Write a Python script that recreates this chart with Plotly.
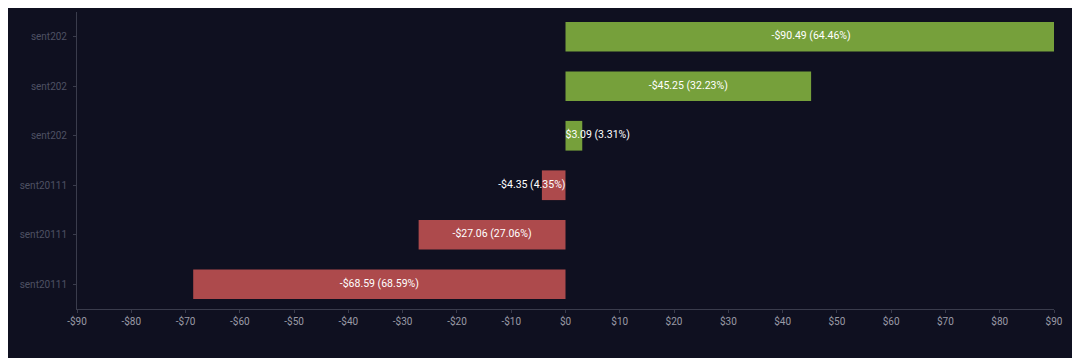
import plotly.graph_objects as go

categories = ["sent20111", "sent20111", "sent20111", "sent202", "sent202", "sent202"]
values = [-68.59, -27.06, -4.35, 3.09, 45.25, 90.49]
labels = ["-$68.59 (68.59%)", "-$27.06 (27.06%)", "-$4.35 (4.35%)",
          "$3.09 (3.31%)", "-$45.25 (32.23%)", "-$90.49 (64.46%)"]
tick_values = [-90, -80, -70, -60, -50, -40, -30, -20, -10, 0, 10, 20, 30, 40, 50, 60, 70, 80, 90]
tick_labels = ["-$90", "-$80", "-$70", "-$60", "-$50", "-$40", "-$30", "-$20", "-$10", "$0",
               "$10", "$20", "$30", "$40", "$50", "$60", "$70", "$80", "$90"]

positions = list(range(len(categories)))
colors = ["#ad4a4c" if v < 0 else "#76a03b" for v in values]

# label placement: centred on large bars, anchored at the base for small ones
text_x, text_pos = [], []
for v in values:
    if abs(v) >= 15:
        text_x.append(v / 2)
        text_pos.append("middle center")
    else:
        text_x.append(0)
        text_pos.append("middle right" if v > 0 else "middle left")

fig = go.Figure()
fig.add_trace(go.Bar(
    x=values, y=positions, orientation="h",
    marker=dict(color=colors, line=dict(width=0)),
    width=0.6, hoverinfo="skip",
))
fig.add_trace(go.Scatter(
    x=text_x, y=positions, mode="text", text=labels, textposition=text_pos,
    textfont=dict(color="#ffffff", size=10.5, family="Roboto"),
    cliponaxis=False, hoverinfo="skip",
))

fig.update_layout(
    width=1080, height=358,
    paper_bgcolor="#0f1020", plot_bgcolor="#0f1020",
    margin=dict(l=69, r=34, t=4, b=57),
    showlegend=False,
    font=dict(family="Roboto", color="#9a9aa6", size=10),
)
fig.update_xaxes(
    range=[-90, 90], tickvals=tick_values, ticktext=tick_labels,
    showgrid=False, zeroline=False, showline=True, linecolor="#3a3c4c", linewidth=1,
    ticks="outside", ticklen=3, tickcolor="#3a3c4c",
    tickfont=dict(color="#9a9aa6", size=10),
)
fig.update_yaxes(
    range=[-0.5, 5.5], tickvals=positions, ticktext=categories,
    showgrid=False, zeroline=False, showline=True, linecolor="#3a3c4c", linewidth=1,
    ticks="outside", ticklen=3, tickcolor="#3a3c4c",
    tickfont=dict(color="#4e5163", size=10),
    ticklabelstandoff=4,
)

fig.write_html("out.html")
